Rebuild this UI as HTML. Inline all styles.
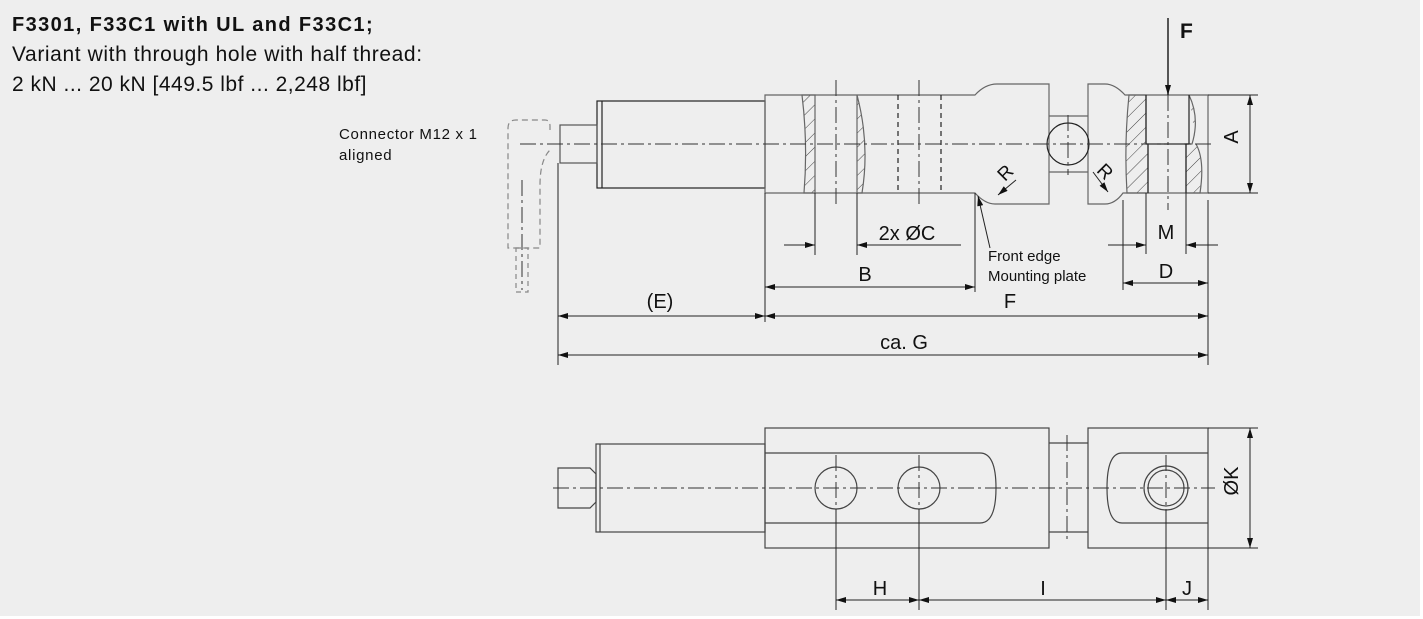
<!DOCTYPE html>
<html><head><meta charset="utf-8"><style>
body{margin:0;background:#fff}
svg{display:block}
text{font-family:"Liberation Sans",Arial,sans-serif;fill:#111}
</style></head><body>
<svg width="1423" height="619" viewBox="0 0 1423 619" xmlns="http://www.w3.org/2000/svg">
<defs>
<marker id="a" viewBox="0 0 10 6" refX="10" refY="3" markerWidth="12" markerHeight="6" orient="auto-start-reverse" markerUnits="userSpaceOnUse"><path d="M0,0L10,3L0,6z" fill="#111"/></marker>
<pattern id="h" width="10" height="10" patternUnits="userSpaceOnUse" patternTransform="rotate(45)"><line x1="0" y1="0" x2="0" y2="10" stroke="#444" stroke-width="1"/></pattern>
</defs>
<rect x="0" y="0" width="1420" height="616" fill="#eeeeee"/>
<text x="12" y="31" font-size="20" font-weight="bold" letter-spacing="1.4">F3301, F33C1 with UL and F33C1;</text>
<text x="12" y="61" font-size="21" letter-spacing="0.6">Variant with through hole with half thread:</text>
<text x="12" y="91" font-size="21" letter-spacing="0.5">2 kN ... 20 kN [449.5 lbf ... 2,248 lbf]</text>
<text x="339" y="139" font-size="15" letter-spacing="0.7">Connector M12 x 1</text>
<text x="339" y="160" font-size="15" letter-spacing="0.7">aligned</text>

<g fill="none" stroke="#222" stroke-width="1.2">
<rect x="597" y="101" width="168" height="87"/>
<line x1="602" y1="101" x2="602" y2="188"/>
<rect x="560" y="125" width="37" height="38" stroke="#555"/>
<path d="M765,95 H975 Q985,84 997,84 H1049 V204 H995 Q985,204 975,193 H765 Z" stroke="#666"/>
<path d="M1088,84 H1105 Q1115,84 1125,95 H1208 V193 H1123 Q1115,204 1105,204 H1088 Z" stroke="#666"/>
<line x1="1049" y1="116" x2="1088" y2="116" stroke="#666"/>
<line x1="1049" y1="172" x2="1088" y2="172" stroke="#666"/>
<circle cx="1068" cy="144" r="21"/>
<path d="M802,95 Q808,144 804,193 H815 V95 Z" fill="url(#h)" stroke="#666"/>
<path d="M857,95 Q870,144 862,193 H857 Z" fill="url(#h)" stroke="#666"/>
<path d="M1129,95 Q1124,144 1127,193 H1148 V144 H1146 V95 Z" fill="url(#h)" stroke="#666"/>
<path d="M1189,95 Q1200,118 1192,144 H1186 V193 H1200 Q1205,160 1196,144" fill="url(#h)" stroke="#666"/>
<line x1="1146" y1="95" x2="1146" y2="144"/><line x1="1189" y1="95" x2="1189" y2="144"/>
<line x1="1146" y1="144" x2="1189" y2="144"/>
<line x1="1148" y1="144" x2="1148" y2="193"/><line x1="1186" y1="144" x2="1186" y2="193"/>
<line x1="898" y1="95" x2="898" y2="193" stroke-dasharray="5,4"/>
<line x1="941" y1="95" x2="941" y2="193" stroke-dasharray="5,4"/>
<path d="M550,130 V126 Q550,120 545,120 H516 Q508,120 508,128 V248 H540 V185 Q540,160 550,150" stroke="#888" stroke-dasharray="6,4"/>
<rect x="516" y="248" width="12" height="44" stroke="#888" stroke-dasharray="5,4"/>
</g>
<g stroke="#333" stroke-width="1" stroke-dasharray="16,4,3,4" fill="none">
<line x1="520" y1="144" x2="1215" y2="144"/>
<line x1="836" y1="80" x2="836" y2="205"/><line x1="919" y1="80" x2="919" y2="205"/>
<line x1="1068" y1="115" x2="1068" y2="175"/>
<line x1="1168" y1="95" x2="1168" y2="210"/>
<line x1="522" y1="180" x2="522" y2="290"/>
</g>
<g stroke="#222" stroke-width="1" fill="none">
<line x1="1168" y1="18" x2="1168" y2="95" stroke-width="1.5" marker-end="url(#a)"/>
<line x1="1208" y1="95" x2="1258" y2="95"/><line x1="1208" y1="193" x2="1258" y2="193"/>
<line x1="1250" y1="95" x2="1250" y2="193" marker-start="url(#a)" marker-end="url(#a)"/>
<line x1="1123" y1="200" x2="1123" y2="290"/><line x1="1208" y1="200" x2="1208" y2="365"/>
<line x1="1146" y1="193" x2="1146" y2="254"/><line x1="1186" y1="193" x2="1186" y2="254"/>
<line x1="1108" y1="245" x2="1146" y2="245" marker-end="url(#a)"/>
<line x1="1218" y1="245" x2="1186" y2="245" marker-end="url(#a)"/>
<line x1="1123" y1="283" x2="1208" y2="283" marker-start="url(#a)" marker-end="url(#a)"/>
<line x1="815" y1="193" x2="815" y2="255"/><line x1="857" y1="193" x2="857" y2="255"/>
<line x1="784" y1="245" x2="815" y2="245" marker-end="url(#a)"/>
<line x1="961" y1="245" x2="857" y2="245" marker-end="url(#a)"/>
<line x1="765" y1="193" x2="765" y2="322"/><line x1="975" y1="193" x2="975" y2="292"/>
<line x1="765" y1="287" x2="975" y2="287" marker-start="url(#a)" marker-end="url(#a)"/>
<line x1="558" y1="163" x2="558" y2="365"/>
<line x1="558" y1="316" x2="765" y2="316" marker-start="url(#a)" marker-end="url(#a)"/>
<line x1="765" y1="316" x2="1208" y2="316" marker-start="url(#a)" marker-end="url(#a)"/>
<line x1="558" y1="355" x2="1208" y2="355" marker-start="url(#a)" marker-end="url(#a)"/>
<line x1="990" y1="248" x2="978" y2="196" marker-end="url(#a)"/>
<line x1="1016" y1="180" x2="998" y2="195" marker-end="url(#a)"/>
<line x1="1093" y1="172" x2="1108" y2="192" marker-end="url(#a)"/>
</g>
<text x="1180" y="38" font-size="21" font-weight="bold">F</text>
<text x="1245" y="144" font-size="20" text-anchor="middle" transform="rotate(-90 1238 144)">A</text>
<text x="1166" y="239" font-size="20" text-anchor="middle">M</text>
<text x="1166" y="278" font-size="20" text-anchor="middle">D</text>
<text x="907" y="240" font-size="20" text-anchor="middle">2x ØC</text>
<text x="865" y="281" font-size="20" text-anchor="middle">B</text>
<text x="660" y="308" font-size="20" text-anchor="middle">(E)</text>
<text x="1010" y="308" font-size="20" text-anchor="middle">F</text>
<text x="904" y="349" font-size="20" text-anchor="middle">ca. G</text>
<text x="988" y="261" font-size="15">Front edge</text>
<text x="988" y="281" font-size="15">Mounting plate</text>
<text x="1000" y="180" font-size="19" transform="rotate(-45 1005 175)">R</text>
<text x="1098" y="178" font-size="19" transform="rotate(45 1105 172)">R</text>

<g fill="none" stroke="#444" stroke-width="1.2">
<rect x="596" y="444" width="169" height="88"/>
<line x1="600" y1="444" x2="600" y2="532"/>
<path d="M558,468 H590 L596,474 V502 L590,508 H558 Z"/>
<rect x="765" y="428" width="284" height="120"/>
<path d="M765,453 H980 Q996,453 996,488 Q996,523 980,523 H765"/>
<line x1="1049" y1="443" x2="1088" y2="443"/><line x1="1049" y1="532" x2="1088" y2="532"/>
<rect x="1088" y="428" width="120" height="120"/>
<path d="M1208,453 H1122 Q1107,453 1107,488 Q1107,523 1122,523 H1208"/>
<circle cx="836" cy="488" r="21"/><circle cx="919" cy="488" r="21"/>
<circle cx="1166" cy="488" r="22"/><circle cx="1166" cy="488" r="18"/>
</g>
<g stroke="#333" stroke-width="1" stroke-dasharray="16,4,3,4" fill="none">
<line x1="553" y1="488" x2="1215" y2="488"/>
<line x1="836" y1="455" x2="836" y2="520"/><line x1="919" y1="455" x2="919" y2="520"/>
<line x1="1166" y1="455" x2="1166" y2="520"/>
<line x1="1067" y1="435" x2="1067" y2="540"/>
</g>
<g stroke="#222" stroke-width="1" fill="none">
<line x1="836" y1="509" x2="836" y2="610"/><line x1="919" y1="509" x2="919" y2="610"/>
<line x1="1166" y1="510" x2="1166" y2="610"/><line x1="1208" y1="548" x2="1208" y2="610"/>
<line x1="836" y1="600" x2="919" y2="600" marker-start="url(#a)" marker-end="url(#a)"/>
<line x1="919" y1="600" x2="1166" y2="600" marker-start="url(#a)" marker-end="url(#a)"/>
<line x1="1166" y1="600" x2="1208" y2="600" marker-start="url(#a)" marker-end="url(#a)"/>
<line x1="1208" y1="428" x2="1258" y2="428"/><line x1="1208" y1="548" x2="1258" y2="548"/>
<line x1="1250" y1="428" x2="1250" y2="548" marker-start="url(#a)" marker-end="url(#a)"/>
</g>
<text x="880" y="595" font-size="20" text-anchor="middle">H</text>
<text x="1043" y="595" font-size="20" text-anchor="middle">I</text>
<text x="1187" y="595" font-size="20" text-anchor="middle">J</text>
<text x="1245" y="488" font-size="20" text-anchor="middle" transform="rotate(-90 1238 488)">ØK</text>
</svg>
</body></html>
